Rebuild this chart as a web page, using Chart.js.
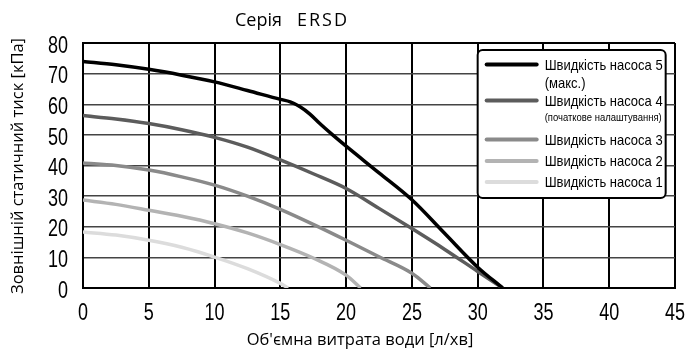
<!DOCTYPE html>
<html>
<head>
<meta charset="utf-8">
<script src="https://cdn.jsdelivr.net/npm/chart.js@4.4.1/dist/chart.umd.min.js"></script>
<style>
  html, body { margin: 0; padding: 0; background: #fff; }
  #wrap { width: 688px; height: 351px; position: relative; }
</style>
</head>
<body>
<div id="wrap"><canvas id="pumpChart"></canvas></div>
<script>
// Pump curves: external static pressure [kPa] versus water flow [l/min]
const speed5Flow = [0, 2.5, 5, 7.5, 10, 12.5, 15, 15.75, 16.5, 17.25, 18, 19, 20, 22.5, 25, 27.5, 30, 31.9];
const speed5Pressure = [74, 72.9, 71.4, 69.5, 67.3, 64.5, 61.6, 60.8, 59.2, 56.8, 53.7, 49.9, 46.3, 37.6, 28.8, 17.8, 6.8, 0];

const speed4Flow = [0, 2.5, 5, 7.5, 10, 12.5, 15, 17.5, 20, 22.5, 25, 27.5, 30, 31.9];
const speed4Pressure = [56.3, 55.2, 53.7, 51.7, 49.2, 46, 41.8, 37.3, 32.5, 26, 19.4, 12.6, 5.4, 0];

const speed3Flow = [0, 2.5, 5, 7.5, 10, 12.5, 15, 17.5, 20, 22.5, 25, 26.4];
const speed3Pressure = [40.8, 40, 38.5, 36.3, 33.6, 30, 25.7, 20.8, 15.6, 10.2, 4.8, 0];

const speed2Flow = [0, 2.5, 5, 7.5, 10, 12.5, 15, 17.5, 20, 21.1];
const speed2Pressure = [28.7, 27.3, 25.4, 23.4, 21, 18, 14.2, 9.8, 4.2, 0];

const speed1Flow = [0, 2.5, 5, 7.5, 10, 12.5, 15, 15.6];
const speed1Pressure = [18.3, 17.3, 15.6, 13.3, 10.1, 6.3, 1.5, 0];

const seriesNames = ['Швидкість насоса 5', 'Швидкість насоса 4', 'Швидкість насоса 3', 'Швидкість насоса 2', 'Швидкість насоса 1'];
const seriesNotes = ['(макс.)', '(початкове налаштування)', '', '', ''];
const seriesColors = ['#000000', '#5c5c5c', '#8a8a8a', '#b3b3b3', '#dcdcdc'];

const flowTicks = [0, 5, 10, 15, 20, 25, 30, 35, 40, 45];
const pressureTicks = [0, 10, 20, 30, 40, 50, 60, 70, 80];

const chartTitle = 'Серія';
const chartTitleCode = 'ERSD';
const xAxisTitle = "Об'ємна витрата води [л/хв]";
const yAxisTitle = 'Зовнішній статичний тиск [кПа]';

const SANS = '"Liberation Sans", Arial, sans-serif';
const HUMANIST = '"Open Sans", "Noto Sans", sans-serif';

function pairs(xs, ys) {
  return xs.map((x, i) => ({ x: x, y: ys[i] }));
}

const seriesData = [
  pairs(speed5Flow, speed5Pressure),
  pairs(speed4Flow, speed4Pressure),
  pairs(speed3Flow, speed3Pressure),
  pairs(speed2Flow, speed2Pressure),
  pairs(speed1Flow, speed1Pressure)
];

const datasets = seriesData.map((d, i) => ({
  label: seriesNames[i],
  data: d,
  borderColor: seriesColors[i],
  backgroundColor: seriesColors[i],
  borderWidth: 3.5,
  pointRadius: 0,
  cubicInterpolationMode: 'monotone',
  fill: false
}));

// Draws text squeezed horizontally by factor sx (narrow lettering)
function narrowText(ctx, text, x, y, sx) {
  ctx.save();
  ctx.translate(x, y);
  ctx.scale(sx, 1);
  ctx.fillText(text, 0, 0);
  ctx.restore();
}

// Tick labels, title, axis titles and the boxed legend drawn on the canvas
const chartTexts = {
  id: 'chartTexts',
  afterDraw(chart) {
    const { ctx, chartArea, scales } = chart;
    ctx.save();
    ctx.fillStyle = '#000';
    ctx.textBaseline = 'middle';

    // tick labels in narrow lettering
    ctx.font = '24px ' + SANS;
    ctx.textAlign = 'right';
    pressureTicks.forEach(v => {
      narrowText(ctx, String(v), 68, scales.y.getPixelForValue(v) + 3, 0.75);
    });
    ctx.textAlign = 'center';
    flowTicks.forEach(v => {
      narrowText(ctx, String(v), scales.x.getPixelForValue(v), 313, 0.75);
    });

    // title
    ctx.font = '18px ' + HUMANIST;
    ctx.textAlign = 'left';
    ctx.fillText(chartTitle, 235, 21);
    ctx.letterSpacing = '2px';
    ctx.fillText(chartTitleCode, 297, 21);
    ctx.letterSpacing = '0px';

    // axis titles
    ctx.font = '16.5px ' + HUMANIST;
    ctx.textAlign = 'center';
    ctx.fillText(xAxisTitle, 360, 340);
    ctx.save();
    ctx.translate(18, 166);
    ctx.rotate(-Math.PI / 2);
    ctx.fillText(yAxisTitle, 0, 0);
    ctx.restore();

    // legend box
    const bx = scales.x.getPixelForValue(30);
    const by = chartArea.top + 7;
    const bw = 188, bh = 148;
    ctx.beginPath();
    ctx.roundRect(bx, by, bw, bh, 5);
    ctx.fillStyle = '#fff';
    ctx.fill();
    ctx.lineWidth = 2;
    ctx.strokeStyle = '#000';
    ctx.stroke();

    ctx.font = '15px ' + SANS;
    const nameScale = 118 / ctx.measureText(seriesNames[0]).width;
    ctx.font = '11px ' + SANS;
    const noteScale = 117 / ctx.measureText(seriesNotes[1]).width;

    const rowY = [14.5, 50.5, 89.5, 111, 132];
    const noteY = [33.5, 67.5];
    ctx.textAlign = 'left';
    seriesNames.forEach((name, i) => {
      const y = by + rowY[i];
      ctx.beginPath();
      ctx.moveTo(bx + 9, y);
      ctx.lineTo(bx + 59, y);
      ctx.lineWidth = 4;
      ctx.lineCap = 'round';
      ctx.strokeStyle = seriesColors[i];
      ctx.stroke();
      ctx.fillStyle = '#000';
      ctx.font = '15px ' + SANS;
      narrowText(ctx, name, bx + 67, y + 1, nameScale);
      if (seriesNotes[i]) {
        ctx.font = (i === 0 ? '15px ' : '11px ') + SANS;
        narrowText(ctx, seriesNotes[i], bx + 67, by + noteY[i], i === 0 ? nameScale : noteScale);
      }
    });
    ctx.restore();
  }
};

new Chart(document.getElementById('pumpChart'), {
  type: 'line',
  data: { datasets: datasets },
  plugins: [chartTexts],
  options: {
    responsive: true,
    maintainAspectRatio: false,
    animation: false,
    devicePixelRatio: 1,
    layout: { padding: { top: 43, right: 13, left: 0, bottom: 0 } },
    plugins: {
      legend: { display: false },
      title: { display: false },
      tooltip: { enabled: false }
    },
    scales: {
      x: {
        type: 'linear',
        min: 0,
        max: 45,
        afterFit(scale) { scale.height = 63; },
        afterBuildTicks(scale) { scale.ticks = flowTicks.map(v => ({ value: v })); },
        ticks: { display: false, autoSkip: false },
        grid: { color: '#000', lineWidth: 2, drawTicks: false },
        border: { display: true, color: '#000', width: 2 }
      },
      y: {
        type: 'linear',
        min: 0,
        max: 80,
        afterFit(scale) { scale.width = 83; },
        afterBuildTicks(scale) { scale.ticks = pressureTicks.map(v => ({ value: v })); },
        ticks: { display: false, autoSkip: false },
        grid: {
          color: (c) => (c.tick && (c.tick.value === 80 || c.tick.value === 0)) ? '#000' : '#444',
          lineWidth: (c) => (c.tick && (c.tick.value === 80 || c.tick.value === 0)) ? 2 : 1.5,
          drawTicks: false
        },
        border: { display: true, color: '#000', width: 2 }
      }
    }
  }
});
</script>
</body>
</html>
